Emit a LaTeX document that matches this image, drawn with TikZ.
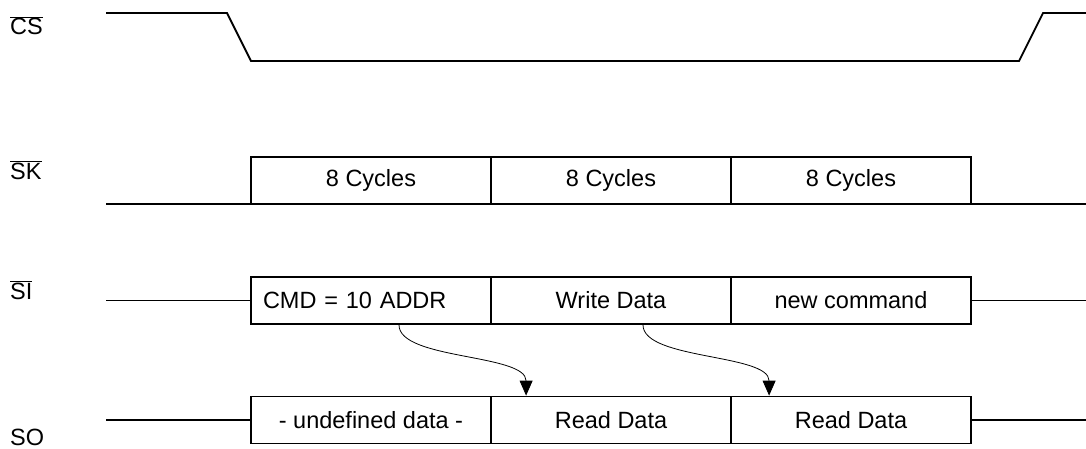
\documentclass[tikz,border=0pt]{standalone}
\usepackage{fontspec}
\setmainfont{Liberation Sans}
\usetikzlibrary{arrows.meta}
\begin{document}
\begin{tikzpicture}[x=1pt,y=-1pt,
  sig/.style={line width=1.8pt},
  cell/.style={draw,line width=1.8pt,minimum width=240pt,minimum height=47pt,inner sep=0pt,font=\fontsize{23.5}{28}\selectfont},
  lbl/.style={anchor=base west,inner sep=0pt,font=\fontsize{23.5}{28}\selectfont},
  flow/.style={line width=0.8pt,-{Triangle[length=15pt,width=13pt]}}]
\useasboundingbox (0,0) rectangle (1086,449);
% labels
\node[lbl] (lcs) at (10,35) {$\overline{\mbox{CS}}$};
\node[lbl] (lsk) at (10,179) {$\overline{\mbox{SK}}$};
\node[lbl] (lsi) at (10,299) {$\overline{\mbox{SI}}$};
\node[lbl] (lso) at (10,445) {SO};
% CS waveform
\draw[sig] (106,13) -- (227,13) -- (251,61) -- (1019,61) -- (1043,13) -- (1086,13);
% SK
\coordinate (skl) at (106,204);
\coordinate (skr) at (1086,204);
\draw[sig] (skl) -- (skr);
\node[cell] (sk1) at (371,180.5) {8 Cycles};
\node[cell] (sk2) at (611,180.5) {8 Cycles};
\node[cell] (sk3) at (851,180.5) {8 Cycles};
% SI
\node[cell,text width=216pt,align=left,inner xsep=12pt] (cmd) at (371,300.5) {CMD = 10 ADDR};
\node[cell] (wd) at (611,300.5) {Write Data};
\node[cell] (nc) at (851,300.5) {new command};
\draw[sig] (106,300.5) -- (cmd.west);
\draw[sig] (nc.east) -- (1086,300.5);
% SO
\node[cell] (und) at (371,420) {- undefined data -};
\node[cell] (rd1) at (611,420) {Read Data};
\node[cell] (rd2) at (851,420) {Read Data};
\draw[sig] (106,420) -- (und.west);
\draw[sig] (rd2.east) -- (1086,420);
% arrows
\draw[flow] ([xshift=28pt]cmd.south) .. controls +(0,35) and +(0,-42) .. ([xshift=36pt]rd1.north west);
\draw[flow] ([xshift=32pt]wd.south) .. controls +(0,35) and +(0,-42) .. ([xshift=39pt]rd2.north west);
\end{tikzpicture}
\end{document}
